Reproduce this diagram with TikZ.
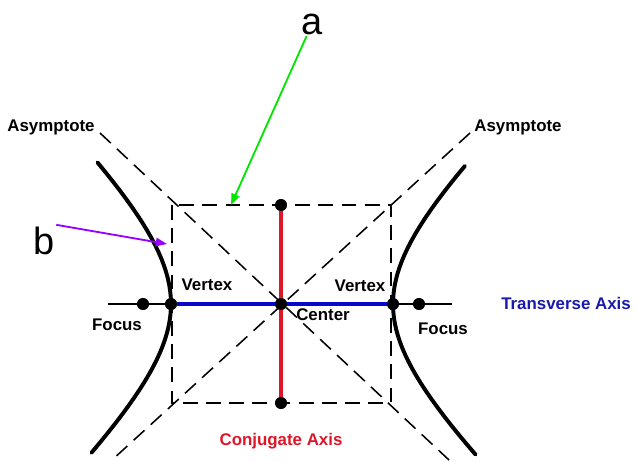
\documentclass[tikz,border=0pt]{standalone}
\usepackage{fontspec}
\setmainfont{Liberation Sans}
\usepackage{tikz}
\usetikzlibrary{arrows.meta,positioning}

\definecolor{axblue}{RGB}{8,8,200}
\definecolor{txtblue}{RGB}{25,25,170}
\definecolor{axred}{RGB}{222,22,40}
\definecolor{arrgreen}{RGB}{0,230,0}
\definecolor{arrpurple}{RGB}{150,0,255}

\begin{document}
\begin{tikzpicture}[
  x=0.025cm, y=-0.025cm,
  guide/.style={dashed, dash pattern=on 10.5pt off 6pt, line width=1.1pt},
  branch/.style={line width=2.8pt, line cap=round},
  dot/.style={circle, fill=black, inner sep=0pt, minimum size=8.4pt},
  lbl/.style={font=\fontsize{12}{14}\selectfont\bfseries, inner sep=0pt, anchor=base},
  big/.style={font=\fontsize{27}{30}\selectfont, inner sep=1pt, anchor=base},
  arr/.style={-{Triangle[length=8pt,width=6pt]}, line width=1.3pt}
]
\useasboundingbox (0,0) rectangle (636,461);

% Box and asymptotes
\coordinate (bxTL) at (172,205);
\coordinate (bxBR) at (391,403);
\coordinate (asUL) at (100,133);
\coordinate (asLR) at (449,460);
\coordinate (asUR) at (470,133);
\coordinate (asLL) at (112,460);
\draw[guide] (bxTL) rectangle (bxBR);
\draw[guide] (asUL) -- (asLR);
\draw[guide] (asUR) -- (asLL);

% Points on the axes
\node[dot] (fL) at (143,304) {};
\node[dot] (vL) at (171,304) {};
\node[dot] (ctr) at (281,304) {};
\node[dot] (vR) at (393,304) {};
\node[dot] (fR) at (419,304) {};
\node[dot] (cT) at (281,205) {};
\node[dot] (cB) at (281,403) {};
\coordinate (axL) at (108,304);
\coordinate (axR) at (452,304);

% Axes
\draw[line width=1.1pt] (axL) -- (axR);
\draw[axblue, line width=2.6pt] (vL) -- (vR);
\draw[axred, line width=3pt] (cT) -- (cB);

% Branches
\draw[branch] plot[domain=-1.10:1.14, samples=40, variable=\t]
  ({281-110*cosh(\t)}, {304+106*sinh(\t)});
\draw[branch] plot[domain=-1.08:1.15, samples=40, variable=\t]
  ({281+112*cosh(\t)}, {304+106*sinh(\t)});

% Dots on top
\foreach \p in {fL,vL,ctr,vR,fR,cT,cB}
  \fill (\p) circle[radius=4.2pt];

% Labels
\node[lbl] (asymL) at (51,131) {Asymptote};
\node[lbl] (asymR) at (518,131) {Asymptote};
\node[lbl] (vtxL) at (207,290) {Vertex};
\node[lbl] (vtxR) at (360,291) {Vertex};
\node[lbl] (focL) at (117,330) {Focus};
\node[lbl] (focR) at (443,334) {Focus};
\node[lbl] (ctrtxt) at (323,320) {Center};
\node[lbl, txtblue] (trans) at (566,309) {Transverse Axis};
\node[lbl, axred] (conj) at (281,445) {Conjugate Axis};

% Pointers a and b
\node[big] (lblA) at (312,34) {a};
\node[big] (lblB) at (44,254) {b};
\coordinate (atip) at (231,205);
\coordinate (btip) at (167,244);
\draw[arr, arrgreen] (lblA) -- (atip);
\draw[arr, arrpurple] (lblB.north east) -- (btip);

\end{tikzpicture}
\end{document}
